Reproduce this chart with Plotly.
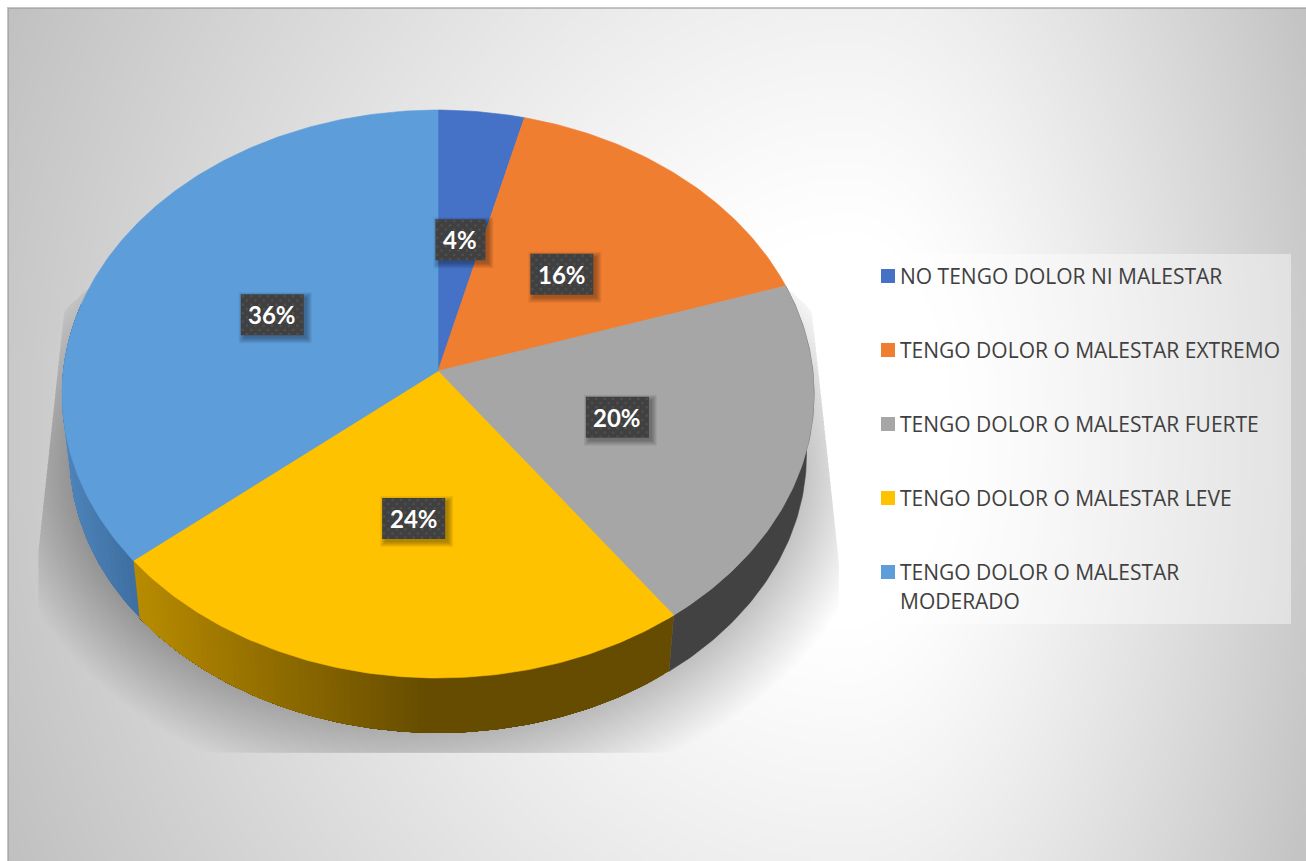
import math
import textwrap

import numpy as np
import plotly.graph_objects as go

# Survey answers and their shares (percent)
categories = [
    "NO TENGO DOLOR NI MALESTAR",
    "TENGO DOLOR O MALESTAR EXTREMO",
    "TENGO DOLOR O MALESTAR FUERTE",
    "TENGO DOLOR O MALESTAR LEVE",
    "TENGO DOLOR O MALESTAR MODERADO",
]
values = [4, 16, 20, 24, 36]
slice_colors = ["#4572C6", "#F07E31", "#A6A6A6", "#FFC200", "#5D9DD9"]

WIDTH, HEIGHT = 1306, 861
LABEL_FONT = "Lato"
LEGEND_FONT = "Open Sans"

# Tilted-disc projection: apex position, horizontal/vertical scale, perspective
CX, CY = 438.0, 371.0
SCALE_X, SCALE_Y, PERSP = 374.8, 282.1, -0.081
# Lower rim of the disc
RIM_DROP, RIM_SCALE = 61.0, 0.98


def project(theta, r=1.0, lower=False):
    """Map clockwise angle from 12 o'clock and radius to canvas position."""
    u = r * np.sin(theta)
    v = -r * np.cos(theta)
    w = 1 + PERSP * v
    dx, dy = SCALE_X * u / w, SCALE_Y * v / w
    if lower:
        return CX + RIM_SCALE * dx, CY + RIM_DROP + RIM_SCALE * dy
    return CX + dx, CY + dy


def arc(a0, a1, lower=False):
    n = max(2, int(abs(a1 - a0) / math.radians(0.75)))
    return project(np.linspace(a0, a1, n), lower=lower)


def mix(c0, c1, t):
    rgb = [round(a + (b - a) * t) for a, b in zip(c0, c1)]
    return "rgb({},{},{})".format(*rgb)


def polygon(xs, ys, color, width=0.6):
    return go.Scatter(
        x=list(xs), y=list(ys), mode="lines", fill="toself", fillcolor=color,
        line=dict(color=color, width=width), hoverinfo="skip", showlegend=False,
    )


def rectangle(x0, x1, y0, y1, color):
    return polygon([x0, x1, x1, x0, x0], [y0, y0, y1, y1, y0], color, width=0)


fig = go.Figure()

# Page backdrop: soft grey vignette around a white core
FRAME_X, FRAME_Y = 8, 8
gx = np.linspace(FRAME_X, WIDTH, 163)
gy = np.linspace(FRAME_Y, HEIGHT, 108)
mx, my = (gx[:-1] + gx[1:]) / 2, (gy[:-1] + gy[1:]) / 2
XX, YY = np.meshgrid(mx, my)
dx = np.where(XX < 850, (850 - XX) / 950, (XX - 850) / 530)
dy = np.abs(YY - 430) / 1030
f = np.clip((np.hypot(dx, dy) - 0.18) / 0.80, 0, 1.05)
fig.add_trace(go.Heatmap(
    x=gx, y=gy, z=255 - 63 * f ** 1.15, zmin=0, zmax=255, zsmooth="best",
    colorscale=[[0, "#000000"], [1, "#ffffff"]], showscale=False, hoverinfo="skip",
))
# Thin darker edge along the top and left of the frame
fig.add_trace(go.Scatter(
    x=[FRAME_X, FRAME_X, WIDTH], y=[HEIGHT, FRAME_Y, FRAME_Y], mode="lines",
    line=dict(color="rgba(150,150,150,0.55)", width=2), hoverinfo="skip", showlegend=False,
))

# Soft cast shadow built from stacked translucent ellipses, trimmed to a flared panel
t = np.linspace(0, 2 * np.pi, 240)
for e in np.linspace(70, -6, 30):
    sx = 438 + (372 + e) * np.cos(t)
    sy = 470 + (263 + e) * np.sin(t)
    sy = np.clip(sy, 250, 753)
    left = np.interp(sy, [250, 310, 553], [130, 64, 38])
    right = np.interp(sy, [250, 310, 560], [746, 812, 839])
    sx = np.clip(sx, left, right)
    fig.add_trace(polygon(sx, sy, "rgba(0,0,0,0.0085)", width=0))

# Slice angle boundaries come straight from the values
total = sum(values)
edges = np.cumsum([0] + values) / total * 2 * np.pi

# Outer wall of the disc: only the near half is visible.
# Gradient walls are painted front to back so neighbouring steps never leave seams.
tx, ty = arc(edges[2], edges[3])
bx, by = arc(edges[2], edges[3], lower=True)
fig.add_trace(polygon(np.r_[tx, bx[::-1]], np.r_[ty, by[::-1]], "#424242"))
wall_ramps = {
    3: ((184, 139, 0), (102, 76, 0), 135.0, 430.0, 90),
    4: ((78, 133, 188), (62, 110, 160), 62.0, 140.0, 30),
}
for i, (c0, c1, x0, x1, n) in wall_ramps.items():
    end = edges[i + 1] if i == 3 else math.radians(284)
    steps = np.linspace(edges[i], end, n)
    for a0 in steps[:-1]:
        arc_t = np.linspace(a0, end, max(2, int((end - a0) / math.radians(0.75))))
        tx, ty = project(arc_t)
        bx, by = project(arc_t, lower=True)
        k = float(np.clip((float(tx[0]) - x0) / (x1 - x0), 0, 1))
        fig.add_trace(polygon(np.r_[tx, bx[::-1]], np.r_[ty, by[::-1]], mix(c0, c1, k), width=0))

# Top face of each slice
for i, (name, color) in enumerate(zip(categories, slice_colors)):
    ax, ay = arc(edges[i], edges[i + 1])
    fig.add_trace(go.Scatter(
        x=np.r_[CX, ax, CX], y=np.r_[CY, ay, CY], mode="lines", fill="toself",
        fillcolor=color, line=dict(color=color, width=0.6), name=name,
        text=f"{name}: {values[i]}%", hoverinfo="text", showlegend=False,
    ))

# Percentage tags: shadowed dark box with a dot texture, value text on top
annotations = []
for i, val in enumerate(values):
    mid = (edges[i] + edges[i + 1]) / 2
    lx, ly = project(mid, r=0.497)
    lx, ly = float(lx), float(ly) + 2.5
    half_w = 25 if val < 10 else 31.5
    half_h = 20.5
    for grow in np.linspace(5, 0, 6):
        fig.add_trace(rectangle(
            lx - half_w + 3 - grow, lx + half_w + 3 + grow,
            ly - half_h + 3 - grow, ly + half_h + 3 + grow, "rgba(0,0,0,0.06)",
        ))
    fig.add_trace(rectangle(lx - half_w, lx + half_w, ly - half_h, ly + half_h, "#404040"))
    dots_x, dots_y = [], []
    for row, yy in enumerate(np.arange(ly - half_h + 2, ly + half_h, 4.2)):
        start = lx - half_w + (2 if row % 2 == 0 else 6.2)
        for xx in np.arange(start, lx + half_w - 0.5, 8.4):
            dots_x.append(xx)
            dots_y.append(yy)
    fig.add_trace(go.Scatter(
        x=dots_x, y=dots_y, mode="markers",
        marker=dict(symbol="square", size=2.4, color="#4F4F4F", line=dict(width=0)),
        hoverinfo="skip", showlegend=False,
    ))
    annotations.append(dict(
        x=lx, y=ly, xref="x", yref="y", text=f"<b>{val}%</b>", showarrow=False,
        font=dict(family=LABEL_FONT, size=24, color="#FFFFFF"),
    ))

# Legend panel on the right
LEGEND_X0, LEGEND_X1, LEGEND_Y0, LEGEND_Y1 = 868, 1291, 254, 624
shapes = [dict(
    type="rect", x0=LEGEND_X0, x1=LEGEND_X1, y0=LEGEND_Y0, y1=LEGEND_Y1,
    xref="x", yref="y", fillcolor="rgba(255,255,255,0.42)", line=dict(width=0), layer="above",
)]
ROW_START, ROW_STEP, LINE_STEP = 276, 74, 29
for i, (name, color) in enumerate(zip(categories, slice_colors)):
    row_y = ROW_START + i * ROW_STEP
    shapes.append(dict(
        type="rect", x0=881, x1=895, y0=row_y - 7, y1=row_y + 7,
        xref="x", yref="y", fillcolor=color, line=dict(width=0), layer="above",
    ))
    for j, line in enumerate(textwrap.wrap(name, 30)):
        annotations.append(dict(
            x=897.5, y=row_y - 0.5 + j * LINE_STEP, xref="x", yref="y", text=line,
            showarrow=False, xanchor="left", yanchor="middle",
            font=dict(family=LEGEND_FONT, size=21, color="#404040"),
        ))

fig.update_layout(
    width=WIDTH, height=HEIGHT, autosize=False,
    margin=dict(l=0, r=0, t=0, b=0, pad=0),
    paper_bgcolor="#FFFFFF", plot_bgcolor="#FFFFFF", showlegend=False,
    xaxis=dict(range=[0, WIDTH], visible=False, fixedrange=True),
    yaxis=dict(range=[HEIGHT, 0], visible=False, fixedrange=True),
    shapes=shapes, annotations=annotations,
)

fig.write_html("out.html", config={"displayModeBar": False, "responsive": False})
